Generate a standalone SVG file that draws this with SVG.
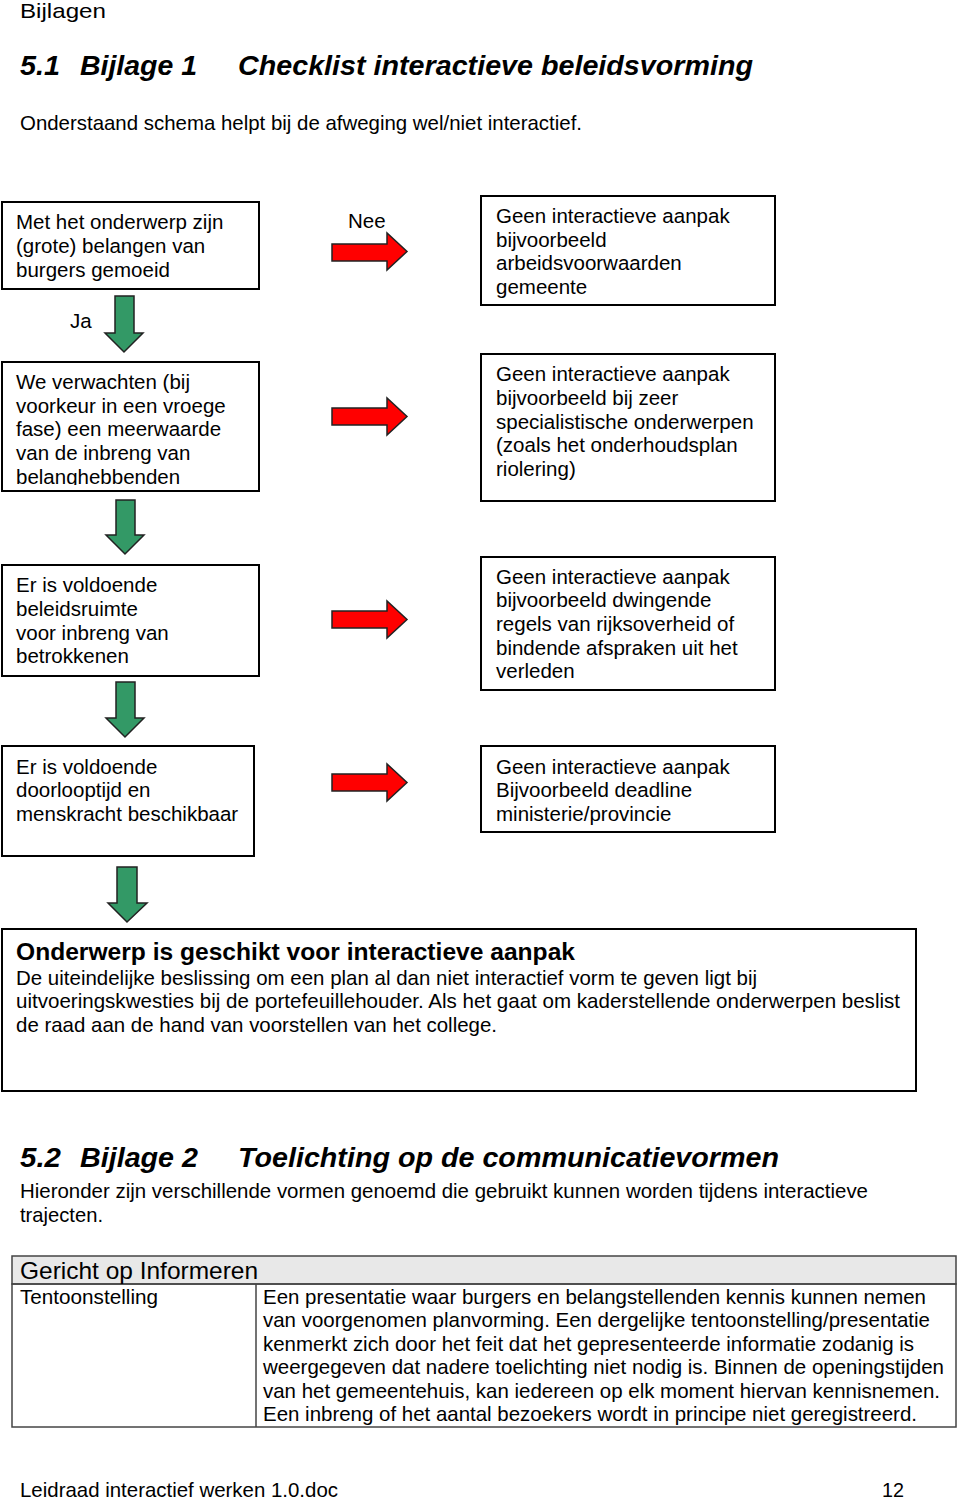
<svg xmlns="http://www.w3.org/2000/svg" width="960" height="1499" viewBox="0 0 960 1499">
<style>
.t{font-family:"Liberation Sans",Arial,sans-serif;font-size:20.5px;fill:#000}
.c{font-family:"Liberation Sans",Arial,sans-serif;font-size:21px;fill:#000}
.h{font-family:"Liberation Sans",Arial,sans-serif;font-size:28px;font-weight:bold;font-style:italic;fill:#000}
.box{fill:#fff;stroke:#000;stroke-width:2}
.red{fill:#ff0000;stroke:#222;stroke-width:1.5}
.grn{fill:#339966;stroke:#222;stroke-width:1.5}
</style>
<defs>
<clipPath id="clip2"><rect x="2" y="362" width="257" height="123"/></clipPath>
</defs>
<rect width="960" height="1499" fill="#fff"/>
<text class="c" x="20" y="18" textLength="86" lengthAdjust="spacingAndGlyphs">Bijlagen</text>
<text class="h" x="20" y="75" textLength="40" lengthAdjust="spacingAndGlyphs">5.1</text>
<text class="h" x="80" y="75" textLength="117" lengthAdjust="spacingAndGlyphs">Bijlage 1</text>
<text class="h" x="238" y="75" textLength="515" lengthAdjust="spacingAndGlyphs">Checklist interactieve beleidsvorming</text>
<text class="c" x="20" y="130" textLength="562" lengthAdjust="spacingAndGlyphs">Onderstaand schema helpt bij de afweging wel/niet interactief.</text>

<g id="connectors">
<path class="red" d="M332,244 H387 V233 L407,251.5 L387,270 V261 H332 Z"/>
<path class="red" d="M332,408 H387 V398 L407,416.5 L387,435 V425 H332 Z"/>
<path class="red" d="M332,611 H387 V601 L407,619.5 L387,638 V628 H332 Z"/>
<path class="red" d="M332,774 H387 V764 L407,782.5 L387,801 V791 H332 Z"/>
<path class="grn" d="M115,296 H134 V333 H143 L124,352 L105,333 H115 Z"/>
<path class="grn" d="M116,500 H135 V535 H144 L125,554 L106,535 H116 Z"/>
<path class="grn" d="M116,682 H135 V718 H144 L125,737 L106,718 H116 Z"/>
<path class="grn" d="M117,867 H137 V903 H147 L127,922 L108,903 H117 Z"/>
<text class="t" x="348" y="228">Nee</text>
<text class="t" x="70" y="328">Ja</text>
</g>

<g id="node-q1">
<rect class="box" x="2" y="202" width="257" height="87"/>
<text class="t" x="16" y="229">Met het onderwerp zijn</text>
<text class="t" x="16" y="253">(grote) belangen van</text>
<text class="t" x="16" y="277">burgers gemoeid</text>
</g>
<g id="node-r1">
<rect class="box" x="481" y="196" width="294" height="109"/>
<text class="t" x="496" y="223">Geen interactieve aanpak</text>
<text class="t" x="496" y="247">bijvoorbeeld</text>
<text class="t" x="496" y="270">arbeidsvoorwaarden</text>
<text class="t" x="496" y="294">gemeente</text>
</g>
<g id="node-q2">
<rect class="box" x="2" y="362" width="257" height="129"/>
<g clip-path="url(#clip2)">
<text class="t" x="16" y="389">We verwachten (bij</text>
<text class="t" x="16" y="413">voorkeur in een vroege</text>
<text class="t" x="16" y="436">fase) een meerwaarde</text>
<text class="t" x="16" y="460">van de inbreng van</text>
<text class="t" x="16" y="484">belanghebbenden</text>
</g>
</g>
<g id="node-r2">
<rect class="box" x="481" y="354" width="294" height="147"/>
<text class="t" x="496" y="381">Geen interactieve aanpak</text>
<text class="t" x="496" y="405">bijvoorbeeld bij zeer</text>
<text class="t" x="496" y="429">specialistische onderwerpen</text>
<text class="t" x="496" y="452">(zoals het onderhoudsplan</text>
<text class="t" x="496" y="476">riolering)</text>
</g>
<g id="node-q3">
<rect class="box" x="2" y="565" width="257" height="111"/>
<text class="t" x="16" y="592">Er is voldoende</text>
<text class="t" x="16" y="616">beleidsruimte</text>
<text class="t" x="16" y="640">voor inbreng van</text>
<text class="t" x="16" y="663">betrokkenen</text>
</g>
<g id="node-r3">
<rect class="box" x="481" y="557" width="294" height="133"/>
<text class="t" x="496" y="584">Geen interactieve aanpak</text>
<text class="t" x="496" y="607">bijvoorbeeld dwingende</text>
<text class="t" x="496" y="631">regels van rijksoverheid of</text>
<text class="t" x="496" y="655">bindende afspraken uit het</text>
<text class="t" x="496" y="678">verleden</text>
</g>
<g id="node-q4">
<rect class="box" x="2" y="746" width="252" height="110"/>
<text class="t" x="16" y="774">Er is voldoende</text>
<text class="t" x="16" y="797">doorlooptijd en</text>
<text class="t" x="16" y="821">menskracht beschikbaar</text>
</g>
<g id="node-r4">
<rect class="box" x="481" y="746" width="294" height="86"/>
<text class="t" x="496" y="774">Geen interactieve aanpak</text>
<text class="t" x="496" y="797">Bijvoorbeeld deadline</text>
<text class="t" x="496" y="821">ministerie/provincie</text>
</g>
<g id="node-result">
<rect class="box" x="2" y="929" width="914" height="162"/>
<text class="c" x="16" y="960" style="font-weight:bold;font-size:24px" textLength="559" lengthAdjust="spacingAndGlyphs">Onderwerp is geschikt voor interactieve aanpak</text>
<text class="c" x="16" y="985" textLength="741" lengthAdjust="spacingAndGlyphs">De uiteindelijke beslissing om een plan al dan niet interactief vorm te geven ligt bij</text>
<text class="c" x="16" y="1008" textLength="884" lengthAdjust="spacingAndGlyphs">uitvoeringskwesties bij de portefeuillehouder. Als het gaat om kaderstellende onderwerpen beslist</text>
<text class="c" x="16" y="1032" textLength="481" lengthAdjust="spacingAndGlyphs">de raad aan de hand van voorstellen van het college.</text>
</g>

<text class="h" x="20" y="1167" textLength="41" lengthAdjust="spacingAndGlyphs">5.2</text>
<text class="h" x="80" y="1167" textLength="118" lengthAdjust="spacingAndGlyphs">Bijlage 2</text>
<text class="h" x="238" y="1167" textLength="541" lengthAdjust="spacingAndGlyphs">Toelichting op de communicatievormen</text>
<text class="c" x="20" y="1198" textLength="848" lengthAdjust="spacingAndGlyphs">Hieronder zijn verschillende vormen genoemd die gebruikt kunnen worden tijdens interactieve</text>
<text class="c" x="20" y="1222" textLength="83" lengthAdjust="spacingAndGlyphs">trajecten.</text>

<g id="table">
<rect x="12" y="1256" width="944" height="28" fill="#e8e8e8" stroke="#444" stroke-width="1.5"/>
<rect x="12" y="1284" width="944" height="143" fill="none" stroke="#444" stroke-width="1.5"/>
<line x1="256" y1="1284" x2="256" y2="1427" stroke="#444" stroke-width="1.5"/>
<text class="c" x="20" y="1279" style="font-size:24px" textLength="238" lengthAdjust="spacingAndGlyphs">Gericht op Informeren</text>
<text class="c" x="20" y="1304" textLength="138" lengthAdjust="spacingAndGlyphs">Tentoonstelling</text>
<text class="c" x="263" y="1304" textLength="663" lengthAdjust="spacingAndGlyphs">Een presentatie waar burgers en belangstellenden kennis kunnen nemen</text>
<text class="c" x="263" y="1327" textLength="667" lengthAdjust="spacingAndGlyphs">van voorgenomen planvorming. Een dergelijke tentoonstelling/presentatie</text>
<text class="c" x="263" y="1351" textLength="651" lengthAdjust="spacingAndGlyphs">kenmerkt zich door het feit dat het gepresenteerde informatie zodanig is</text>
<text class="c" x="263" y="1374" textLength="681" lengthAdjust="spacingAndGlyphs">weergegeven dat nadere toelichting niet nodig is. Binnen de openingstijden</text>
<text class="c" x="263" y="1398" textLength="677" lengthAdjust="spacingAndGlyphs">van het gemeentehuis, kan iedereen op elk moment hiervan kennisnemen.</text>
<text class="c" x="263" y="1421" textLength="654" lengthAdjust="spacingAndGlyphs">Een inbreng of het aantal bezoekers wordt in principe niet geregistreerd.</text>
</g>

<text class="c" x="20" y="1497" textLength="318" lengthAdjust="spacingAndGlyphs">Leidraad interactief werken 1.0.doc</text>
<text class="c" x="882" y="1497" textLength="22" lengthAdjust="spacingAndGlyphs">12</text>
</svg>
